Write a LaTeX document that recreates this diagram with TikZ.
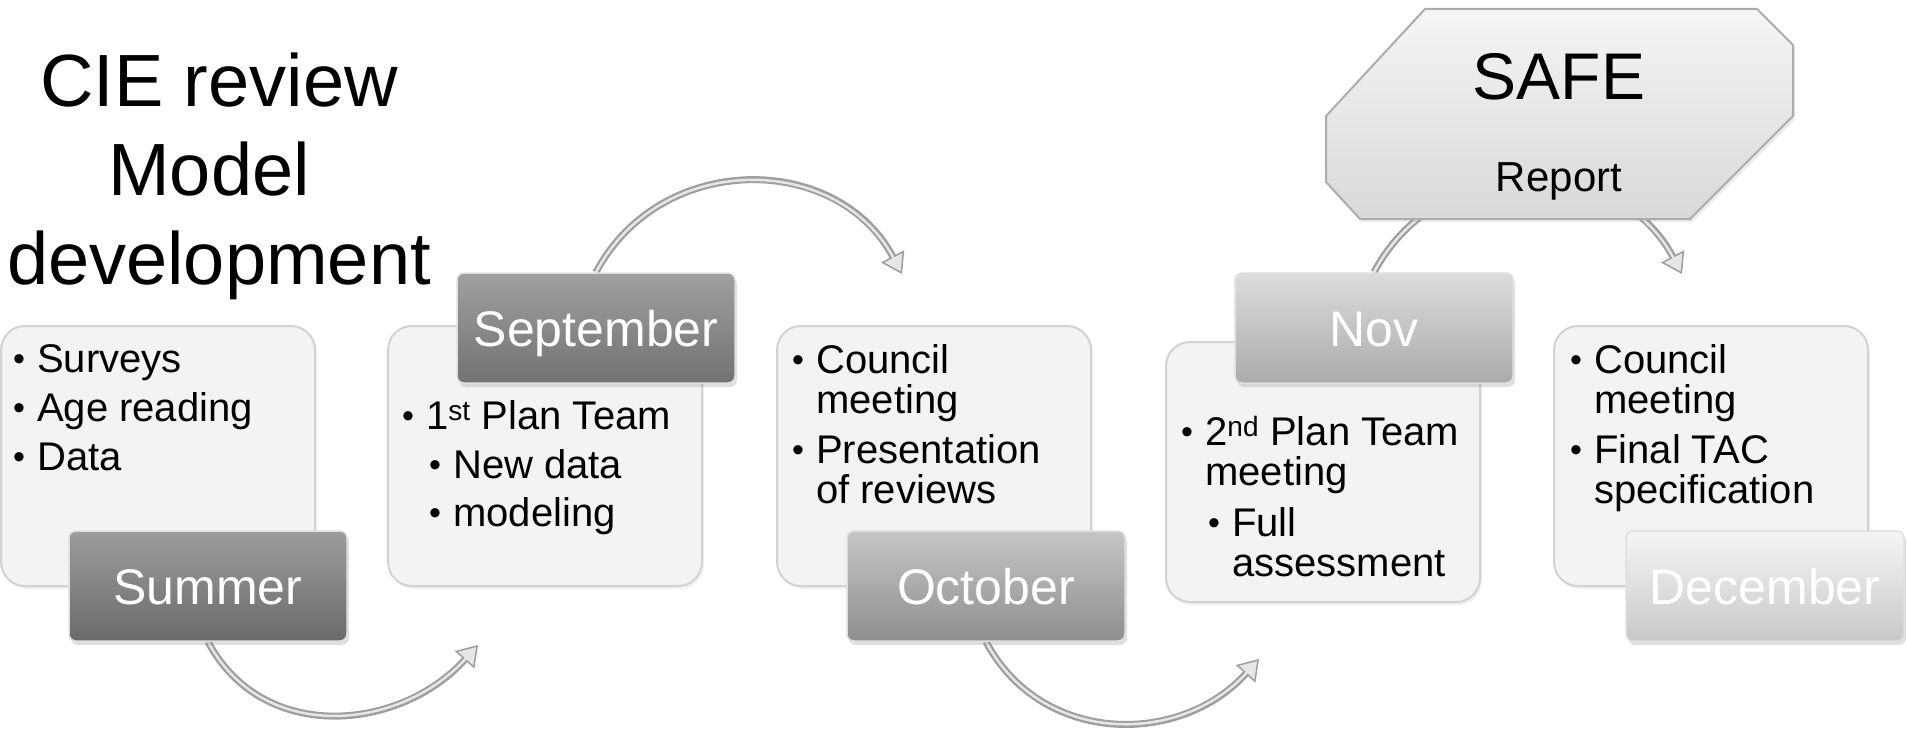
\documentclass[tikz,border=0pt]{standalone}
\usepackage{fontspec}
\setmainfont{Liberation Sans}
\usetikzlibrary{arrows.meta,shadows,backgrounds}

\definecolor{boxfill}{HTML}{F3F3F3}
\definecolor{boxline}{HTML}{D2D2D2}
\definecolor{arrowgray}{HTML}{9E9E9E}
\definecolor{arrowlight}{HTML}{E6E6E6}
\definecolor{sumtop}{HTML}{9C9C9C}\definecolor{sumbot}{HTML}{6B6B6B}
\definecolor{septop}{HTML}{A0A0A0}\definecolor{sepbot}{HTML}{727272}
\definecolor{octtop}{HTML}{C6C6C6}\definecolor{octbot}{HTML}{8E8E8E}
\definecolor{novtop}{HTML}{DCDCDC}\definecolor{novbot}{HTML}{ABABAB}
\definecolor{dectop}{HTML}{F5F5F5}\definecolor{decbot}{HTML}{C8C8C8}

\newlength{\bulw}\setlength{\bulw}{24pt}
\newcommand{\bul}{\makebox[\bulw][l]{\raisebox{2pt}{\fontsize{34}{34}\selectfont\textbullet}}}
\newcommand{\ind}{\hspace*{\bulw}}
\newcommand{\subind}{\hspace*{27pt}}

\tikzset{every node/.style={inner sep=0pt},
  infobox/.style={draw=boxline, fill=boxfill, line width=2pt, rounded corners=24pt,
    minimum width=314pt, minimum height=260pt,
    drop shadow={opacity=0.12, shadow xshift=2pt, shadow yshift=-3pt}},
  monthtag/.style={draw=white!75!gray, line width=1.5pt, rounded corners=7pt,
    minimum width=278pt, minimum height=110pt, text=white,
    font=\fontsize{50}{60}\selectfont, text height=36pt, text depth=0pt,
    drop shadow={opacity=0.25, shadow xshift=2pt, shadow yshift=-4pt}},
  itemtext/.style={anchor=north west, align=left, font=\fontsize{40}{40}\selectfont},
  flow/.style={draw=arrowgray, line width=7pt,
    -{Triangle[length=20pt,width=26pt,line width=1.5pt,fill=arrowlight]},
    postaction={draw=arrowlight, line width=2.5pt, -, shorten >=18pt}}}

\begin{document}
\begin{tikzpicture}[x=1pt,y=-1pt]
  \useasboundingbox (0,0) rectangle (1907,733);

  % heading
  \node[anchor=north, align=center, font=\fontsize{74}{89}\selectfont] (title) at (219,53)
    {CIE review\\Model\rule{20pt}{0pt}\\development};

  % content boxes
  \node[infobox] (box1) at (158,456) {};
  \node[infobox] (box2) at (545,456) {};
  \node[infobox] (box3) at (934,456) {};
  \node[infobox] (box4) at (1323,472) {};
  \node[infobox] (box5) at (1711,456) {};

  \node[itemtext] (txt1) at (13,344) {\bul Surveys\\[9pt]\bul Age reading\\[9pt]\bul Data};
  \node[itemtext] (txt2) at (402,400) {\bul 1\textsuperscript{st} Plan Team\\[9pt]
    \subind\bul New data\\[8pt]\subind\bul modeling};
  \node[itemtext] (txt3) at (792,344) {\bul Council\\\ind meeting\\[10pt]
    \bul Presentation\\\ind of reviews};
  \node[itemtext] (txt4) at (1181,416) {\bul 2\textsuperscript{nd} Plan Team\\\ind meeting\\[11pt]
    \subind\bul Full\\\subind\ind assessment};
  \node[itemtext] (txt5) at (1570,344) {\bul Council\\\ind meeting\\[10pt]
    \bul Final TAC\\\ind specification};

  % month tags
  \node[monthtag, top color=sumtop, bottom color=sumbot] (sum) at (208,586) {Summer};
  \node[monthtag, top color=septop, bottom color=sepbot] (sep) at (596,328) {September};
  \node[monthtag, top color=octtop, bottom color=octbot] (oct) at (986,586) {October};
  \node[monthtag, top color=novtop, bottom color=novbot] (nov) at (1374,328) {Nov};
  \node[monthtag, top color=dectop, bottom color=decbot] (dec) at (1765,586) {December};

  % SAFE report
  \draw[draw=gray!65, line width=2pt, top color=gray!8, bottom color=gray!30,
    drop shadow={opacity=0.15, shadow xshift=2pt, shadow yshift=-3pt}]
    (1425,9) -- (1757,9) -- (1793,45) -- (1793,116) -- (1690,219)
    -- (1360,219) -- (1326,182) -- (1326,116) -- cycle;
  \node[anchor=base, font=\fontsize{66}{70}\selectfont] (safe) at (1559,100) {SAFE};
  \node[anchor=base, font=\fontsize{42}{50}\selectfont] (report) at (1559,192) {Report};

  % arrows
  \coordinate (e1) at (478,645);
  \coordinate (e2) at (902,274);
  \coordinate (e3) at (1259,659);
  \coordinate (e4) at (1682,274);
  \begin{scope}[on background layer]
    \draw[flow] (sum.south) to[out=-62, in=-132, looseness=1.1] (e1);
    \draw[flow] (sep.north) to[out=62, in=118, looseness=1.15] (e2);
    \draw[flow] (oct.south) to[out=-62, in=-132, looseness=1.1] (e3);
    \draw[flow] (nov.north) to[out=62, in=118, looseness=1.15] (e4);
  \end{scope}
\end{tikzpicture}
\end{document}
